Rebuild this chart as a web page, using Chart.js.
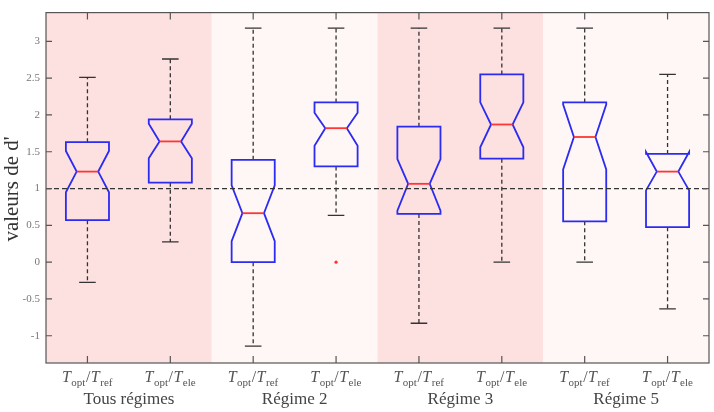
<!DOCTYPE html>
<html>
<head>
<meta charset="utf-8">
<script src="https://cdn.jsdelivr.net/npm/chart.js@4.4.0/dist/chart.umd.min.js"></script>
<style>
  html, body { margin: 0; padding: 0; background: #fff; overflow: hidden; }
  canvas { display: block; }
</style>
</head>
<body>
<canvas id="myChart" width="714" height="412"></canvas>
<script>
// groups and boxes
const groupNames = ['Tous régimes', 'Régime 2', 'Régime 3', 'Régime 5'];
const boxSub = ['ref', 'ele', 'ref', 'ele', 'ref', 'ele', 'ref', 'ele'];
const boxPos = [1, 2, 3, 4, 5, 6, 7, 8];

// box plot values
const whiskerLow  = [-0.275, 0.275, -1.14, 0.635, -0.83, 0.0, 0.0, -0.635];
const q1          = [0.57, 1.08, 0.0, 1.30, 0.655, 1.405, 0.555, 0.475];
const notchLow    = [0.95, 1.41, 0.285, 1.58, 0.70, 1.56, 1.26, 0.975];
const medians     = [1.23, 1.64, 0.665, 1.82, 1.064, 1.87, 1.70, 1.23];
const notchHigh   = [1.51, 1.88, 1.045, 2.03, 1.40, 2.17, 2.14, 1.495];
const q3          = [1.63, 1.94, 1.39, 2.17, 1.84, 2.55, 2.17, 1.47];
const whiskerHigh = [2.51, 2.76, 3.18, 3.18, 3.18, 3.18, 3.18, 2.55];
const outlierX = [4];
const outlierY = [0.0];

const refValue = 1;
const yTicks = [-1, -0.5, 0, 0.5, 1, 1.5, 2, 2.5, 3];
const yMin = -1.37, yMax = 3.39;

const shadeDark = '#fde0e0';
const shadeLight = '#fff6f6';
const serif = '"Liberation Serif", "Times New Roman", serif';

const boxPlugin = {
    id: 'boxes',
    beforeDraw(chart) {
        const c = chart.ctx, a = chart.chartArea, x = chart.scales.x;
        c.save();
        c.fillStyle = '#fff';
        c.fillRect(0, 0, chart.width, chart.height);
        // shaded regions, one per group
        for (let g = 0; g < groupNames.length; g++) {
            const x0 = x.getPixelForValue(g * 2 + 0.5);
            const x1 = x.getPixelForValue(g * 2 + 2.5);
            c.fillStyle = (g % 2 == 0) ? shadeDark : shadeLight;
            c.fillRect(x0, a.top, x1 - x0, a.bottom - a.top);
        }
        c.restore();
    },
    beforeDatasetsDraw(chart) {
        const c = chart.ctx, x = chart.scales.x, y = chart.scales.y;
        const hw = 0.26, nw = 0.13, cw = 0.1;
        c.save();
        for (let i = 0; i < boxPos.length; i++) {
            const p = boxPos[i];
            const xc = x.getPixelForValue(p);
            const L = x.getPixelForValue(p - hw), R = x.getPixelForValue(p + hw);
            const Li = x.getPixelForValue(p - nw), Ri = x.getPixelForValue(p + nw);
            // whiskers
            c.strokeStyle = '#333';
            c.lineWidth = 1.3;
            c.setLineDash([4, 3]);
            c.beginPath();
            c.moveTo(xc, y.getPixelForValue(q3[i]));
            c.lineTo(xc, y.getPixelForValue(whiskerHigh[i]));
            c.moveTo(xc, y.getPixelForValue(q1[i]));
            c.lineTo(xc, y.getPixelForValue(whiskerLow[i]));
            c.stroke();
            c.setLineDash([]);
            c.beginPath();
            const cl = x.getPixelForValue(p - cw), cr = x.getPixelForValue(p + cw);
            c.moveTo(cl, y.getPixelForValue(whiskerHigh[i]));
            c.lineTo(cr, y.getPixelForValue(whiskerHigh[i]));
            c.moveTo(cl, y.getPixelForValue(whiskerLow[i]));
            c.lineTo(cr, y.getPixelForValue(whiskerLow[i]));
            c.stroke();
            // notched box
            c.strokeStyle = '#2b2bf2';
            c.lineWidth = 1.8;
            c.beginPath();
            c.moveTo(L, y.getPixelForValue(q1[i]));
            c.lineTo(L, y.getPixelForValue(notchLow[i]));
            c.lineTo(Li, y.getPixelForValue(medians[i]));
            c.lineTo(L, y.getPixelForValue(notchHigh[i]));
            c.lineTo(L, y.getPixelForValue(q3[i]));
            c.lineTo(R, y.getPixelForValue(q3[i]));
            c.lineTo(R, y.getPixelForValue(notchHigh[i]));
            c.lineTo(Ri, y.getPixelForValue(medians[i]));
            c.lineTo(R, y.getPixelForValue(notchLow[i]));
            c.lineTo(R, y.getPixelForValue(q1[i]));
            c.closePath();
            c.stroke();
            // median
            c.strokeStyle = '#ff3535';
            c.beginPath();
            c.moveTo(Li, y.getPixelForValue(medians[i]));
            c.lineTo(Ri, y.getPixelForValue(medians[i]));
            c.stroke();
        }
        c.restore();
    },
    afterDraw(chart) {
        const c = chart.ctx, a = chart.chartArea, x = chart.scales.x, y = chart.scales.y;
        c.save();
        // axes box and inward ticks
        c.strokeStyle = '#555';
        c.lineWidth = 1.2;
        c.strokeRect(a.left, a.top, a.right - a.left, a.bottom - a.top);
        c.beginPath();
        boxPos.forEach(function(p) {
            const px = x.getPixelForValue(p);
            c.moveTo(px, a.top); c.lineTo(px, a.top + 7);
            c.moveTo(px, a.bottom); c.lineTo(px, a.bottom - 7);
        });
        yTicks.forEach(function(v) {
            const py = y.getPixelForValue(v);
            c.moveTo(a.left, py); c.lineTo(a.left + 6, py);
            c.moveTo(a.right, py); c.lineTo(a.right - 6, py);
        });
        c.stroke();

        // x tick labels: T_opt / T_ref
        c.fillStyle = '#555';
        c.textBaseline = 'alphabetic';
        c.textAlign = 'left';
        const fT = 'italic 16px ' + serif, fS = '11px ' + serif, fN = '16px ' + serif;
        boxPos.forEach(function(p, i) {
            const parts = [[fT, 'T', 0], [fS, 'opt', 4], [fN, '/', 0], [fT, 'T', 0], [fS, boxSub[i], 4]];
            let w = 0;
            parts.forEach(function(pt) { c.font = pt[0]; w += c.measureText(pt[1]).width + 0.5; });
            let cx = x.getPixelForValue(p) - w / 2;
            parts.forEach(function(pt) {
                c.font = pt[0];
                c.fillText(pt[1], cx, 382 + pt[2]);
                cx += c.measureText(pt[1]).width + 0.5;
            });
        });

        // group labels
        c.fillStyle = '#444';
        c.font = '17px ' + serif;
        c.textAlign = 'center';
        groupNames.forEach(function(g, k) {
            c.fillText(g, x.getPixelForValue(k * 2 + 1.5), 404);
        });

        // y title
        c.translate(12, 189);
        c.rotate(-Math.PI / 2);
        c.font = '21px ' + serif;
        c.fillStyle = '#333';
        c.textBaseline = 'middle';
        c.fillText("valeurs de d'", 0, 0);
        c.restore();
    }
};

let myChart = new Chart(document.getElementById('myChart').getContext('2d'), {
    type: 'scatter',
    data: {
        datasets: [
            {
                type: 'line',
                data: [{x: 0.5, y: refValue}, {x: 8.5, y: refValue}],
                borderColor: '#333',
                borderWidth: 1.3,
                borderDash: [5, 3],
                pointRadius: 0
            },
            {
                data: outlierX.map(function(v, i) { return {x: v, y: outlierY[i]}; }),
                pointRadius: 1.6,
                backgroundColor: '#ff3030',
                borderWidth: 0
            }
        ]
    },
    options: {
        responsive: false,
        animation: false,
        layout: { padding: { top: 5, right: 5, left: 0, bottom: 0 } },
        plugins: { legend: { display: false }, tooltip: { enabled: false } },
        scales: {
            x: {
                type: 'linear', min: 0.5, max: 8.5,
                grid: { display: false },
                border: { display: false },
                ticks: { display: false },
                afterFit: function(s) { s.height = 49; }
            },
            y: {
                min: yMin, max: yMax,
                grid: { display: false, drawTicks: false },
                border: { display: false },
                afterBuildTicks: function(s) { s.ticks = yTicks.map(function(v) { return {value: v}; }); },
                ticks: {
                    padding: 6,
                    color: '#777',
                    font: { family: serif, size: 11 },
                    callback: function(v) { return String(v); }
                },
                afterFit: function(s) { s.width = 46; }
            }
        }
    },
    plugins: [boxPlugin]
});
</script>
</body>
</html>
